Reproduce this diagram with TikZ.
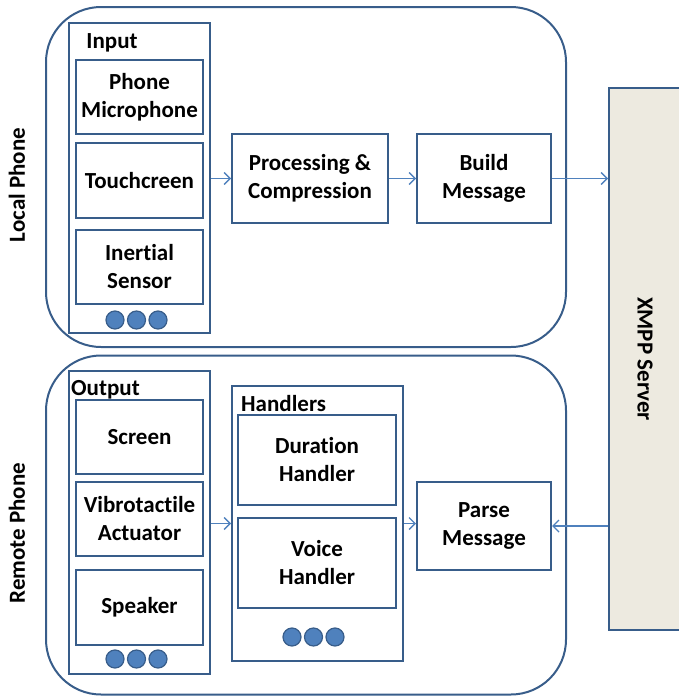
\documentclass[tikz,border=0pt]{standalone}
\usepackage{fontspec}
\setmainfont{Carlito}[RawFeature={-liga}]
\usetikzlibrary{arrows.meta}
\definecolor{bdr}{HTML}{385D8A}
\definecolor{arr}{HTML}{4F81BD}
\definecolor{srv}{HTML}{EDEAE0}
\tikzset{
  txt/.style={font=\fontsize{23}{28}\selectfont\bfseries, text=black, align=center, inner sep=0pt},
  outerbox/.style={draw=bdr, line width=2pt, rounded corners=55pt, inner sep=0pt},
  panel/.style={draw=bdr, line width=1.2pt, inner sep=0pt},
  hpanel/.style={draw=bdr, line width=1.6pt, inner sep=0pt},
  box/.style={txt, draw=bdr, line width=2pt, fill=white},
  dot/.style={circle, draw=bdr, fill=arr, line width=1.2pt, minimum size=18pt, inner sep=0pt},
  conn/.style={draw=arr, line width=1.5pt, -{Straight Barb[length=6pt,width=12pt,line width=1.4pt]}},
}
\begin{document}
\begin{tikzpicture}[x=1pt,y=-1pt]
\useasboundingbox (0,0) rectangle (678,696);
% XMPP server
\node[draw=bdr, line width=2pt, fill=srv, minimum width=75pt, minimum height=542pt, inner sep=0pt] (xmpp) at (646.5,359) {};
\node[txt, rotate=-90] (xmpptxt) at (645,359) {XMPP Server};
% outer phones
\node[outerbox, minimum width=520pt, minimum height=340pt] (local) at (306,177) {};
\node[outerbox, minimum width=520pt, minimum height=339pt] (remote) at (306,525) {};
\node[txt, rotate=90] (localtxt) at (17,185) {Local Phone};
\node[txt, rotate=90] (remotetxt) at (17,533) {Remote Phone};
% input panel
\node[panel, minimum width=141pt, minimum height=310pt] (inp) at (139.5,178) {};
\node[txt] (inptxt) at (112,43) {Input};
\node[box, minimum width=127pt, minimum height=74pt] (mic) at (139.5,97) {Phone\\Microphone};
\node[box, minimum width=127pt, minimum height=75pt] (touch) at (139.5,180.5) {Touchcreen};
\node[box, minimum width=127pt, minimum height=74pt] (inert) at (139.5,267) {Inertial\\Sensor};
\node[dot] (d1) at (115,320) {};
\node[dot] (d2) at (136.5,320) {};
\node[dot] (d3) at (158,320) {};
% processing
\node[box, minimum width=156pt, minimum height=89pt] (proc) at (310,178.5) {Processing \&\\Compression};
\node[box, minimum width=134pt, minimum height=89pt] (build) at (484,178.5) {Build\\Message};
% output panel
\node[panel, minimum width=141pt, minimum height=303pt] (outp) at (139.5,522.5) {};
\node[txt, anchor=west] (outtxt) at (71,390) {Output};
\node[box, minimum width=127pt, minimum height=74pt] (screen) at (139.5,437) {Screen};
\node[box, minimum width=127pt, minimum height=74pt] (vibro) at (139.5,519) {Vibrotactile\\Actuator};
\node[box, minimum width=127pt, minimum height=75pt] (speak) at (139.5,607.5) {Speaker};
\node[dot] (e1) at (115,659) {};
\node[dot] (e2) at (136.5,659) {};
\node[dot] (e3) at (158,659) {};
% handlers
\node[hpanel, minimum width=171pt, minimum height=275pt] (hand) at (317.5,523.5) {};
\node[txt, anchor=west] (handtxt) at (241,404) {Handlers};
\node[box, minimum width=158pt, minimum height=90pt] (dur) at (317,460) {Duration\\Handler};
\node[box, minimum width=158pt, minimum height=90pt] (voice) at (317,563) {Voice\\Handler};
\node[dot] (f1) at (292,637) {};
\node[dot] (f2) at (313.5,637) {};
\node[dot] (f3) at (335,637) {};
% parse
\node[box, minimum width=134pt, minimum height=88pt] (parse) at (484,526) {Parse\\Message};
% connectors
\draw[conn] (inp.east |- proc.west) -- (proc.west);
\draw[conn] (proc.east) -- (build.west);
\draw[conn] (build.east) -- (xmpp.west |- build.east);
\draw[conn] (outp.east |- hand.west) -- (hand.west);
\draw[conn] (hand.east) -- (hand.east -| parse.west);
\draw[conn] (xmpp.west |- parse.east) -- (parse.east);
\end{tikzpicture}
\end{document}
